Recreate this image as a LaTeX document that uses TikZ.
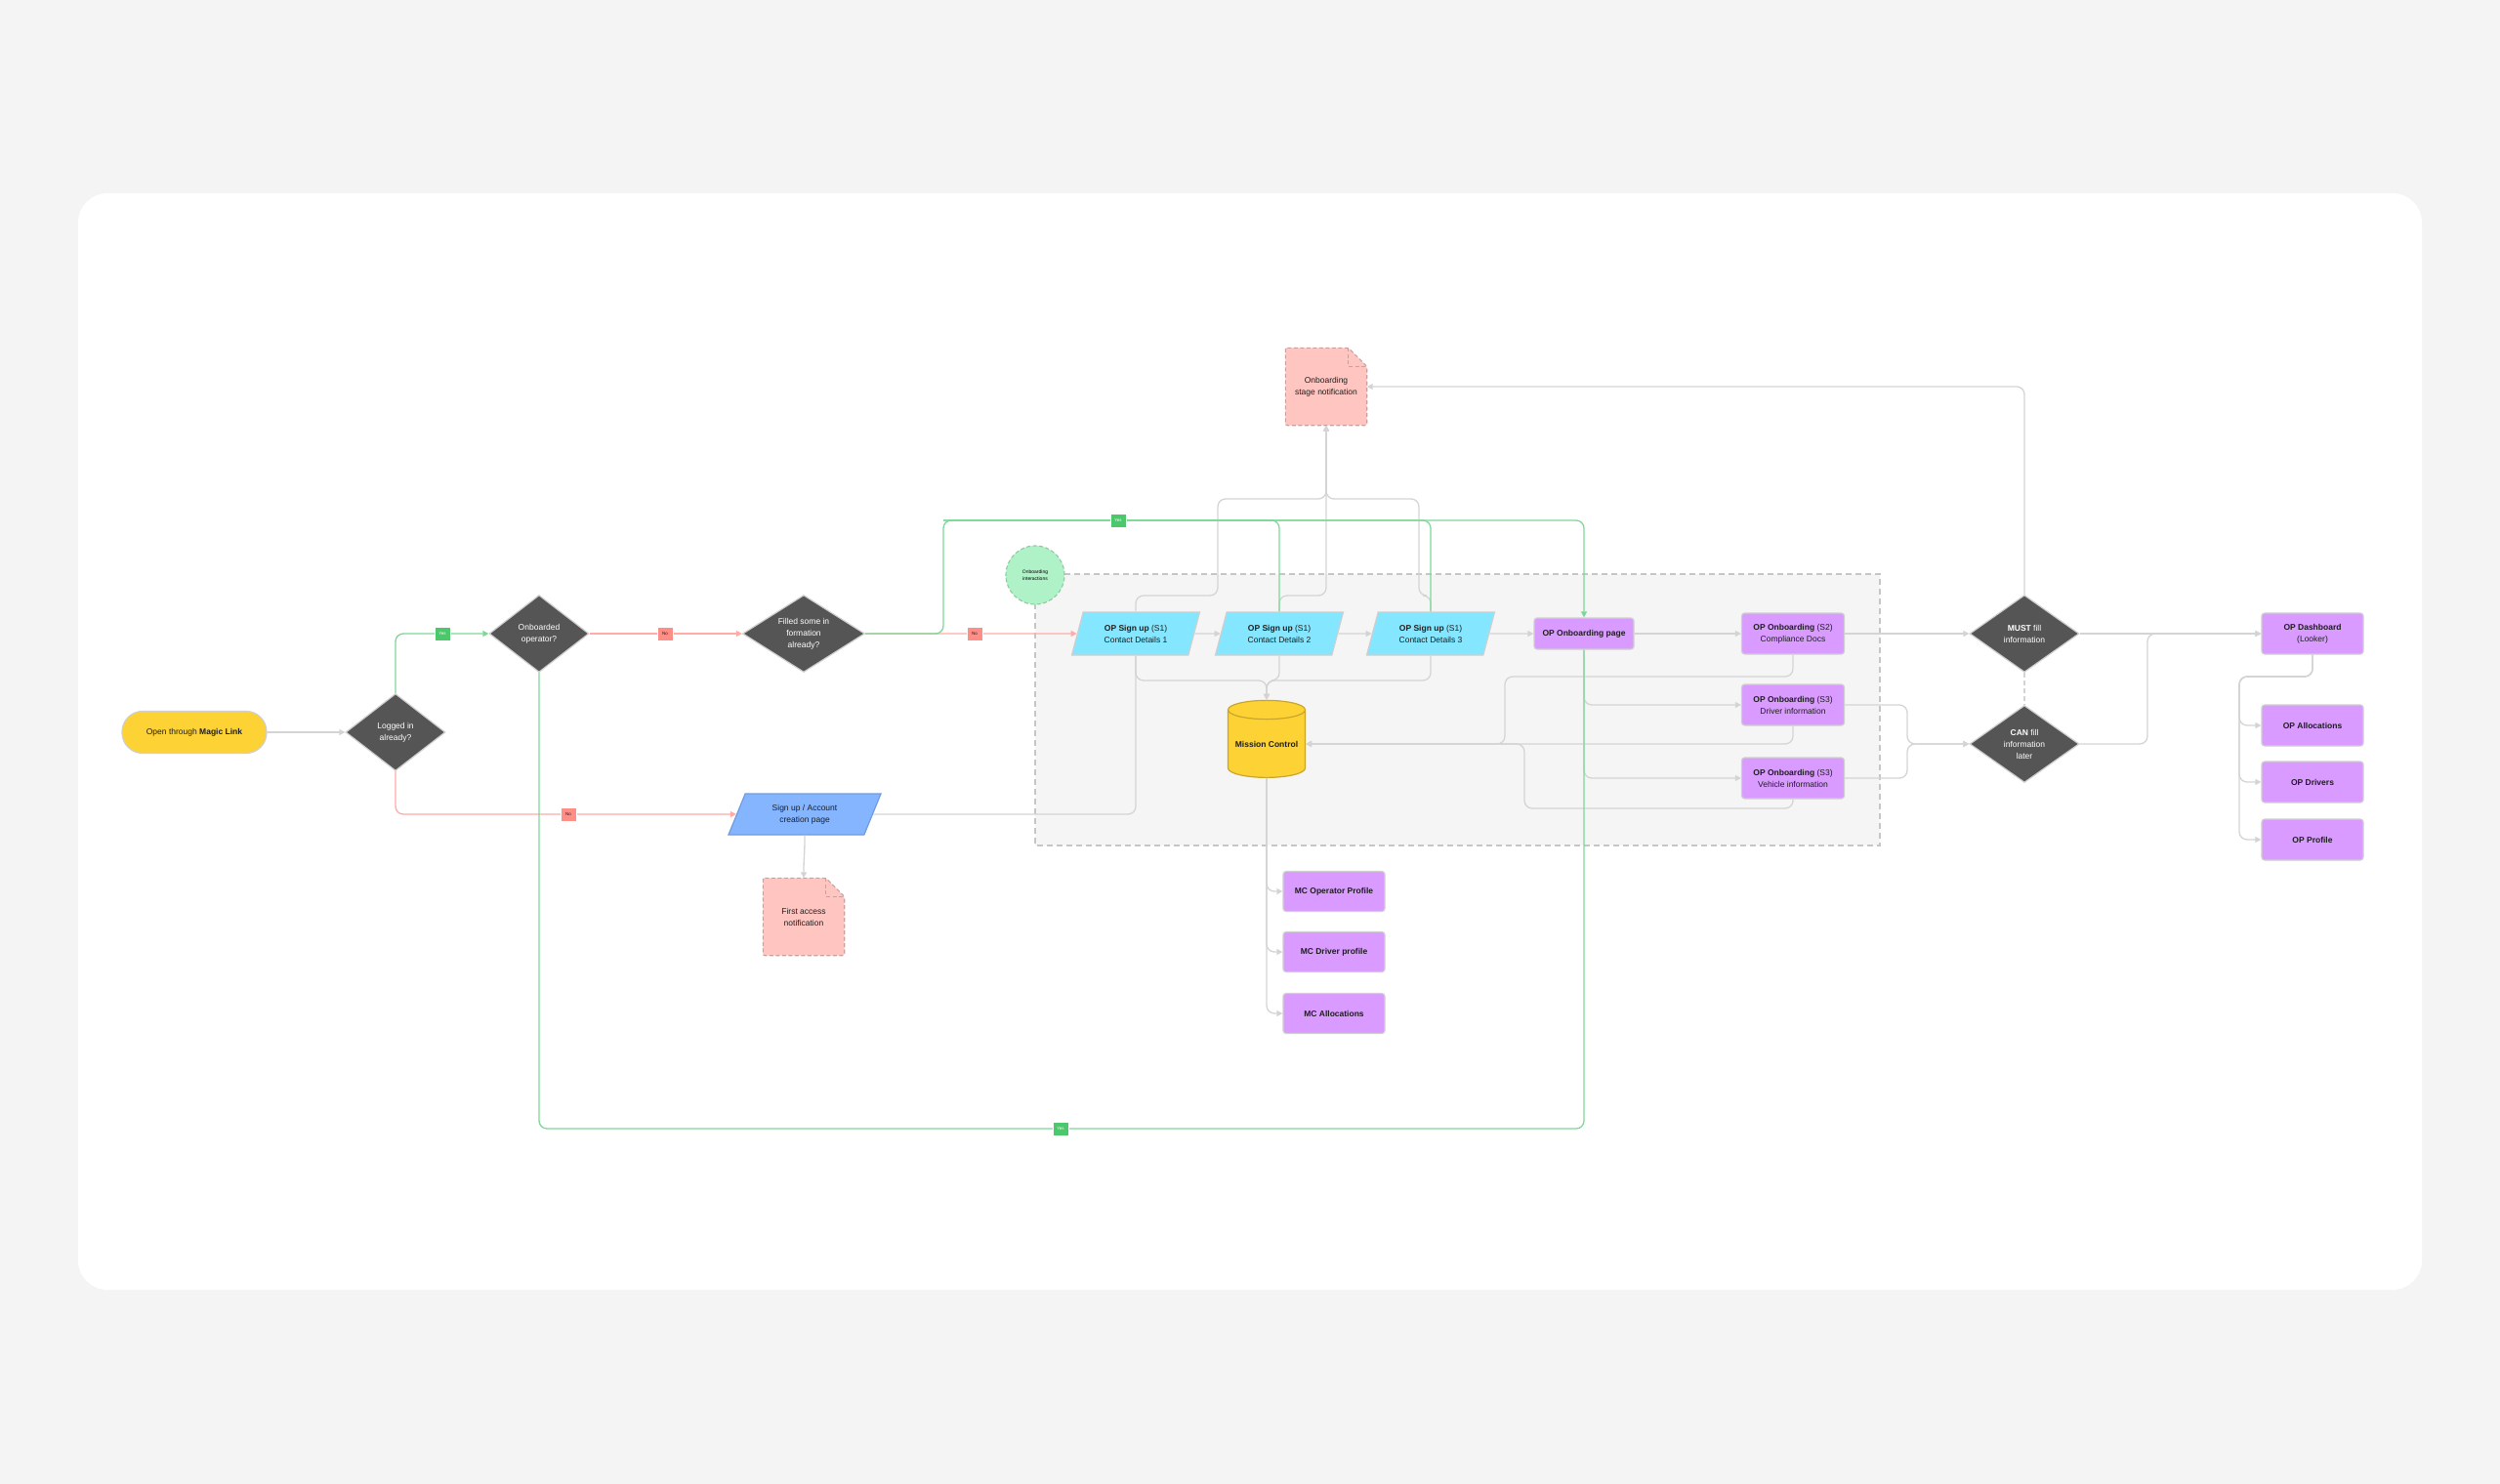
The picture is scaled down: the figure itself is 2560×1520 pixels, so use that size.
\documentclass[tikz,border=0pt]{standalone}
\usepackage{fontspec}
\setmainfont{Liberation Sans}
\usetikzlibrary{shapes.geometric,arrows.meta}

\pgfdeclarelayer{back}
\pgfsetlayers{back,main}

\definecolor{pagebg}{HTML}{F4F4F4}
\definecolor{groupbg}{HTML}{F5F5F5}
\definecolor{ink}{HTML}{1E1E1E}
\definecolor{edgegrey}{HTML}{CFCFCF}
\definecolor{linegrey}{HTML}{D4D4D4}
\definecolor{dashgrey}{HTML}{C6C6C6}
\definecolor{slate}{HTML}{555555}
\definecolor{sun}{HTML}{FDD235}
\definecolor{sunedge}{HTML}{CBA52A}
\definecolor{sky}{HTML}{84E6FF}
\definecolor{azure}{HTML}{86B5FF}
\definecolor{azureedge}{HTML}{6F9BDF}
\definecolor{lilac}{HTML}{D99BFF}
\definecolor{blush}{HTML}{FFC6C1}
\definecolor{blushedge}{HTML}{C9A09D}
\definecolor{mint}{HTML}{B0F2C8}
\definecolor{mintedge}{HTML}{8CCB9F}
\definecolor{yesline}{HTML}{7DD898}
\definecolor{yesfill}{HTML}{4CC76B}
\definecolor{noline}{HTML}{FFACA6}
\definecolor{nofill}{HTML}{FF8E87}

\tikzset{
  txt/.style={font=\fontsize{8.5}{12}\selectfont, text=ink, align=center},
  lilacbox/.style={txt, draw=edgegrey, line width=1.2pt, rounded corners=3pt,
    fill=lilac, minimum width=104pt, minimum height=42pt, inner sep=1pt},
  decision/.style={txt, diamond, aspect=#1, fill=slate, draw=edgegrey,
    line width=1.2pt, text=white, inner sep=0pt},
  decision/.default=1.4,
  inputbox/.style={txt, trapezium, trapezium left angle=60, trapezium right angle=120,
    trapezium stretches body, draw=edgegrey, line width=1.2pt, fill=sky,
    minimum width=131pt, minimum height=44pt, inner sep=1pt},
  notebox/.style={txt, minimum width=83pt, minimum height=79pt, inner sep=0pt},
  notedash/.style={draw=blushedge, line width=1.1pt, dash pattern=on 4pt off 2.5pt},
  flow/.style={draw=linegrey, line width=1.3pt, rounded corners=8pt},
  tip/.style={-{Triangle[length=6pt,width=6pt]}},
  yesflow/.style={draw=yesline, line width=1.3pt, rounded corners=8pt},
  noflow/.style={draw=noline, line width=1.3pt, rounded corners=8pt},
  yeslbl/.style={fill=yesfill, draw=white, line width=0.6pt, text=white,
    font=\fontsize{4.5}{5}\selectfont, minimum width=16pt, minimum height=14pt, inner sep=0pt},
  nolbl/.style={fill=nofill, draw=white, line width=0.6pt, text=ink,
    font=\fontsize{4.5}{5}\selectfont, minimum width=16pt, minimum height=14pt, inner sep=0pt}
}

% dog-eared outline behind a note node
\newcommand\foldnote[1]{%
  \begin{pgfonlayer}{back}
    \fill[blush, rounded corners=2pt] (#1.north west) -- ([xshift=-19pt]#1.north east)
      -- ([yshift=-19pt]#1.north east) -- (#1.south east) -- (#1.south west) -- cycle;
    \draw[notedash, rounded corners=2pt] (#1.north west) -- ([xshift=-19pt]#1.north east)
      -- ([yshift=-19pt]#1.north east) -- (#1.south east) -- (#1.south west) -- cycle;
    \draw[notedash] ([xshift=-19pt]#1.north east) -- ([xshift=-19pt,yshift=-19pt]#1.north east)
      -- ([yshift=-19pt]#1.north east);
  \end{pgfonlayer}}

\begin{document}
\begin{tikzpicture}[x=1pt,y=-1pt]
  \begin{pgfonlayer}{back}
    \fill[pagebg] (0,0) rectangle (2560,1520);
    \fill[white, rounded corners=30pt] (80,198) rectangle (2480,1321);
    \draw[fill=groupbg, draw=dashgrey, line width=1.3pt, dash pattern=on 6pt off 4pt]
      (1060,588) rectangle (1925,866);
  \end{pgfonlayer}
  \useasboundingbox (0,0) rectangle (2560,1520);

  % entry and decisions
  \node[txt, fill=sun, draw=edgegrey, line width=1.2pt, rounded corners=21pt,
    minimum width=148pt, minimum height=43pt] (start) at (199,750)
    {Open through \textbf{Magic Link}};
  \node[decision=1.3, minimum width=102pt, minimum height=79pt] (logged) at (405,750)
    {Logged in\\already?};
  \node[decision=1.3, minimum width=102pt, minimum height=79pt] (onb) at (552,649)
    {Onboarded\\operator?};
  \node[decision=1.6, minimum width=125pt, minimum height=79pt] (filled) at (823,649)
    {Filled some in\\formation\\already?};
  \node[inputbox, fill=azure, draw=azureedge, trapezium left angle=52,
    trapezium right angle=128, minimum width=156pt, minimum height=42pt] (signup) at (824,834)
    {Sign up / Account\\creation page};
  \node[notebox] (first) at (823,939) {First access\\notification};
  \foldnote{first}
  \node[notebox] (notif) at (1358,396) {Onboarding\\stage notification};
  \foldnote{notif}

  % onboarding group
  \node[circle, fill=mint, draw=mintedge, line width=1.1pt, dash pattern=on 4pt off 2.5pt,
    minimum size=60pt, inner sep=0pt, align=center, font=\fontsize{5}{7}\selectfont]
    (inter) at (1060,589) {Onboarding\\interactions};
  \node[inputbox] (s1a) at (1163,649) {\textbf{OP Sign up} (S1)\\Contact Details 1};
  \node[inputbox] (s1b) at (1310,649) {\textbf{OP Sign up} (S1)\\Contact Details 2};
  \node[inputbox] (s1c) at (1465,649) {\textbf{OP Sign up} (S1)\\Contact Details 3};
  \node[lilacbox, minimum width=102pt, minimum height=32pt] (page) at (1622,649)
    {\textbf{OP Onboarding page}};
  \node[lilacbox, minimum width=105pt] (comp) at (1836,649)
    {\textbf{OP Onboarding} (S2)\\Compliance Docs};
  \node[lilacbox, minimum width=105pt] (drv) at (1836,722)
    {\textbf{OP Onboarding} (S3)\\Driver information};
  \node[lilacbox, minimum width=105pt] (veh) at (1836,797)
    {\textbf{OP Onboarding} (S3)\\Vehicle information};
  \node[txt, cylinder, shape border rotate=90, aspect=0.3, fill=sun, draw=sunedge,
    line width=1.2pt, minimum width=79pt, minimum height=79pt, inner sep=0pt] (mc) at (1297,762)
    {\textbf{Mission Control}};

  % mission control views
  \node[lilacbox, minimum height=41pt] (mcop) at (1366,913) {\textbf{MC Operator Profile}};
  \node[lilacbox, minimum height=41pt] (mcdrv) at (1366,975) {\textbf{MC Driver profile}};
  \node[lilacbox, minimum height=41pt] (mcall) at (1366,1038) {\textbf{MC Allocations}};

  % right side
  \node[decision=1.45, minimum width=112pt, minimum height=79pt] (must) at (2073,649)
    {\textbf{MUST} fill\\information};
  \node[decision=1.45, minimum width=112pt, minimum height=79pt] (can) at (2073,762)
    {\textbf{CAN} fill\\information\\later};
  \node[lilacbox] (dash) at (2368,649) {\textbf{OP Dashboard}\\(Looker)};
  \node[lilacbox] (alloc) at (2368,743) {\textbf{OP Allocations}};
  \node[lilacbox] (drivers) at (2368,801) {\textbf{OP Drivers}};
  \node[lilacbox] (profile) at (2368,860) {\textbf{OP Profile}};

  % bends
  \coordinate (ytop) at (966,533);
  \coordinate (ybot) at (1622,1156);
  \coordinate (nt1) at (1247,610);
  \coordinate (nt3) at (1453,610);
  \coordinate (ntj) at (1358,511);
  \coordinate (mcj) at (1297,697);
  \coordinate (cj1) at (1541,693);
  \coordinate (vj1) at (1561,828);
  \coordinate (jn) at (1953,762);
  \coordinate (jr) at (2199,649);
  \coordinate (dj) at (2293,693);

  % grey flow
  \draw[flow, tip] (start) -- (logged);
  \draw[flow, tip] (s1a) -- (s1b);
  \draw[flow, tip] (s1b) -- (s1c);
  \draw[flow, tip] (s1c) -- (page);
  \draw[flow, tip] (page) -- (comp);
  \draw[flow, tip] (page.south) |- (drv.west);
  \draw[flow, tip] (page.south) |- (veh.west);
  \draw[flow] (signup.east) -| (s1a.south);
  \draw[flow, tip] (signup.south) .. controls +(0,22) and +(0,-22) .. (first.north);
  \draw[flow, tip] (s1a.south) |- (mcj) -- (mc.north);
  \draw[flow, tip] (s1b.south) |- (mcj) -- (mc.north);
  \draw[flow, tip] (s1c.south) |- (mcj) -- (mc.north);
  \draw[flow, tip] (s1a.north) |- (nt1) |- (ntj) -- (notif.south);
  \draw[flow, tip] (s1b.north) |- (notif.south |- nt1) -- (notif.south);
  \draw[flow, tip] (s1c.north) |- (nt3) |- (ntj) -- (notif.south);
  \draw[flow, tip] (comp.south) |- (cj1) |- (mc.east);
  \draw[flow, tip] (drv.south) |- (mc.east);
  \draw[flow, tip] (veh.south) |- (vj1) |- (mc.east);
  \draw[flow, tip] (mc.south) |- (mcop.west);
  \draw[flow, tip] (mc.south) |- (mcdrv.west);
  \draw[flow, tip] (mc.south) |- (mcall.west);
  \draw[flow, tip] (comp) -- (must);
  \draw[flow, tip] (drv.east) -| (jn) -- (can.west);
  \draw[flow, tip] (veh.east) -| (jn) -- (can.west);
  \draw[flow, dash pattern=on 5pt off 3pt] (must) -- (can);
  \draw[flow, tip] (must.north) |- (notif.east);
  \draw[flow, tip] (must) -- (dash);
  \draw[flow, tip] (can.east) -| (jr) -- (dash.west);
  \draw[flow, tip] (dash.south) |- (dj) |- (alloc.west);
  \draw[flow, tip] (dash.south) |- (dj) |- (drivers.west);
  \draw[flow, tip] (dash.south) |- (dj) |- (profile.west);

  % yes / no branches
  \draw[yesflow, tip] (logged.north) |- (onb.west);
  \draw[noflow, tip] (logged.south) |- (signup.west);
  \draw[noflow, tip] (onb) -- (filled);
  \draw[noflow, tip] (filled.east) -- (s1a.west);
  \draw[yesflow, tip] (filled.east) -| (ytop) -| (page.north);
  \draw[yesflow] (ytop) -| (s1b.north);
  \draw[yesflow] (ytop) -| (s1c.north);
  \draw[yesflow] (onb.south) |- (ybot) -- (page.south);

  \node[yeslbl] (yes1) at (453,649) {Yes};
  \node[yeslbl] (yes2) at (1145,533) {Yes};
  \node[yeslbl] (yes3) at (1086,1156) {Yes};
  \node[nolbl] (no1) at (681,649) {No};
  \node[nolbl] (no2) at (998,649) {No};
  \node[nolbl] (no3) at (582,834) {No};
\end{tikzpicture}
\end{document}
